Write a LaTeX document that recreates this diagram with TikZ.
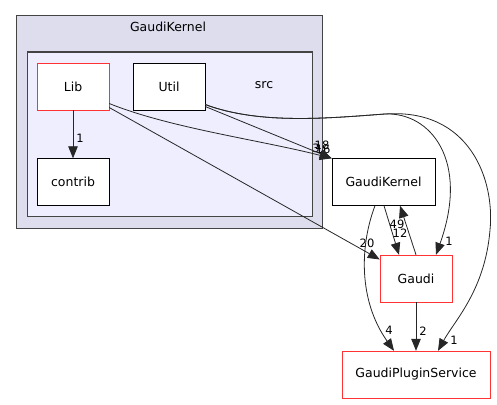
\documentclass[tikz,border=0pt]{standalone}
\usepackage{fontspec}
\setmainfont{DejaVu Sans}
\usetikzlibrary{arrows.meta}
\definecolor{outerfill}{HTML}{DDDDEE}
\definecolor{innerfill}{HTML}{EEEEFF}
\definecolor{clborder}{HTML}{444444}
\definecolor{redborder}{HTML}{FF3333}
\tikzset{
  box/.style={draw=black, fill=white, minimum width=72pt, minimum height=47pt, inner sep=0pt, font=\fontsize{12.5}{15}\selectfont},
  redbox/.style={box, draw=redborder},
  edge/.style={draw=black!85, line width=0.8pt, -{Triangle[length=12pt,width=9.5pt]}},
  elabel/.style={font=\fontsize{11.5}{14}\selectfont, inner sep=0pt},
  cltitle/.style={font=\fontsize{12.5}{15}\selectfont, inner sep=0pt}
}
\begin{document}
\begin{tikzpicture}[x=1pt,y=-1pt]
\useasboundingbox (0,0) rectangle (497,404);
% clusters
\draw[clborder, fill=outerfill, line width=1pt] (16,16) rectangle (322,228);
\node[cltitle] (t1) at (168,27) {GaudiKernel};
\draw[clborder, fill=innerfill, line width=1pt] (27,52) rectangle (312,216);
\node[cltitle] (t2) at (264,85) {src};
% nodes
\node[redbox] (lib) at (73,86.5) {Lib};
\node[box] (util) at (169,86.5) {Util};
\node[box] (contrib) at (73,182) {contrib};
\node[box, minimum width=103pt] (gk) at (383.5,182) {GaudiKernel};
\node[redbox] (gaudi) at (416,278.5) {Gaudi};
\node[redbox, minimum width=148pt] (gps) at (416,374.5) {GaudiPluginService};
% edges
\draw[edge] (lib.south) -- (contrib.north);
\node[elabel] (l1) at (80,138) {1};

\draw[edge] ([yshift=-17pt]lib.east) .. controls (170,128) and (260,140) .. (gk.north west);
\node[elabel] (l2) at (316,148) {3};
\node[elabel] (l2b) at (323,149) {16};

\draw[edge] ([yshift=-20pt]util.east) -- (gk.north west);
\node[elabel] (l3) at (322,145) {18};

\draw[edge] ([yshift=-21pt]lib.east) -- ([yshift=19pt]gaudi.west);
\node[elabel] (l4) at (367,243) {20};

\draw[edge] ([xshift=0.5pt]gk.south) -- ([xshift=-17pt]gaudi.north);
\node[elabel] (l5) at (400,233) {12};

\draw[edge] (gaudi.north) -- ([xshift=16.5pt]gk.south);
\node[elabel] (l6) at (397,224) {49};

\draw[edge] ([xshift=-8.5pt]gk.south) .. controls (360,245) and (358,300) .. ([xshift=-22pt]gps.north);
\node[elabel] (l7) at (389,330) {4};

\draw[edge] (gaudi.south) -- (gps.north);
\node[elabel] (l8) at (423,331) {2};

\draw[edge] ([yshift=-18pt]util.east) .. controls (260,125) and (330,118) .. (385,114)
  .. controls (430,112) and (470,160) .. ([xshift=20pt]gaudi.north);
\node[elabel] (l9) at (449,241) {1};

\draw[edge] ([yshift=-18pt]util.east) .. controls (260,125) and (330,118) .. (385,114)
  .. controls (470,108) and (495,180) .. (490,230)
  .. controls (485,290) and (455,320) .. ([xshift=22pt]gps.north);
\node[elabel] (l10) at (454,340) {1};
\end{tikzpicture}
\end{document}
